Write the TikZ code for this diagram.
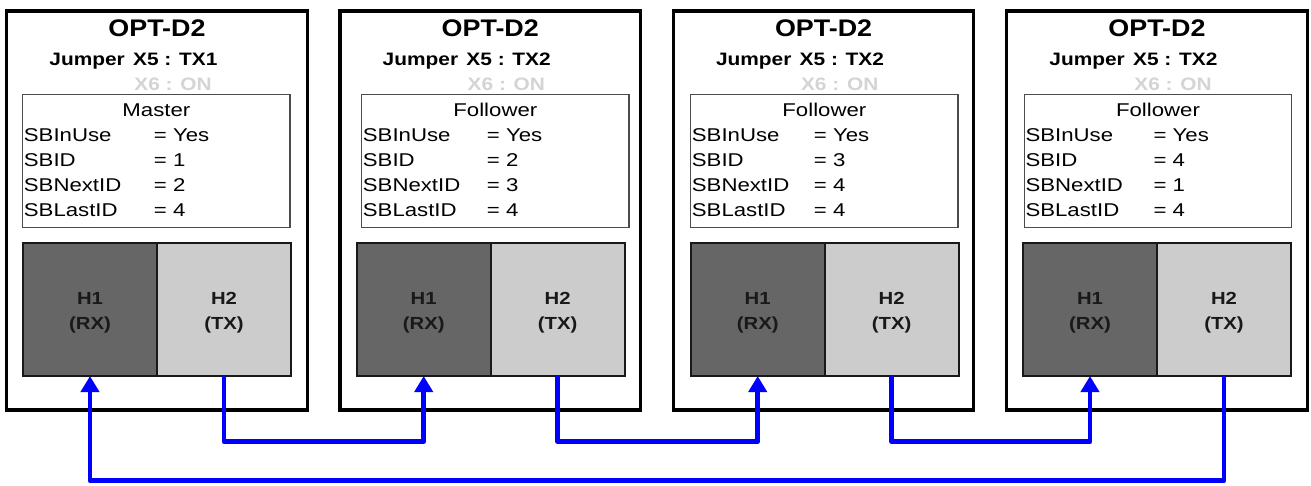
\documentclass[tikz,border=0pt]{standalone}
\usepackage{fontspec}
\setmainfont{Liberation Sans}
\newfontfamily\regf[FakeStretch=1.2]{Liberation Sans}
\newfontfamily\boldf[FakeStretch=1.16]{Liberation Sans Bold}
\newfontfamily\titlef[FakeStretch=1.12]{Liberation Sans Bold}
\usetikzlibrary{arrows.meta,calc}
\definecolor{hdark}{HTML}{666666}
\definecolor{hlight}{HTML}{CCCCCC}
\definecolor{xgray}{HTML}{D4D4D4}
\definecolor{lblue}{HTML}{0000FF}
\begin{document}
\begin{tikzpicture}[x=1pt,y=-1pt,
 outerbox/.style={draw, line width=3.3pt, minimum width=300.5pt, minimum height=399pt, inner sep=0pt, outer sep=0pt},
 infobox/.style={draw=black!70, line width=1.1pt, minimum width=267.3pt, minimum height=133.4pt, inner sep=0pt, outer sep=0pt},
 hbox/.style={draw=black!90, line width=2pt, minimum width=134pt, minimum height=132.7pt, inner sep=0pt, outer sep=0pt},
 rxbox/.style={hbox, fill=hdark},
 txbox/.style={hbox, fill=hlight},
 title/.style={font=\titlef\fontsize{24}{27}\selectfont, anchor=base, inner sep=0pt},
 jump/.style={font=\boldf\fontsize{18}{21}\selectfont, anchor=base west, inner sep=0pt},
 xsix/.style={jump, text=xgray},
 rolelab/.style={font=\regf\fontsize{18.5}{21}\selectfont, anchor=base, inner sep=0pt},
 rowlab/.style={font=\regf\fontsize{18.5}{21}\selectfont, anchor=base west, inner sep=0pt},
 hlab/.style={font=\boldf\fontsize{17.5}{20}\selectfont, anchor=base, inner sep=0pt, text=black!90},
 link/.style={draw=lblue, line width=4.8pt, line join=round, -{Triangle[width=18pt,length=16pt]}},
]
\useasboundingbox (0,0) rectangle (1311,485);
\foreach \i/\ox/\ix/\hx/\eq/\rl/\ida/\nxa/\jx in {
  1/6.7/22.7/23/131/Master/1/2/TX1,
  2/340/361.7/356.7/125/Follower/2/3/TX2,
  3/673.3/690.7/690.7/123/Follower/3/4/TX2,
  4/1006.7/1024.3/1023/129/Follower/4/1/TX2}{
  \node[outerbox, anchor=north west] (b\i) at (\ox,11) {};
  \node[infobox, anchor=north west] (s\i) at (\ix,94.3) {};
  \node[rxbox, anchor=north west] (rx\i) at (\hx,243.3) {};
  \node[txbox, anchor=west] (tx\i) at (rx\i.east) {};
  \node[title] (t\i) at (b\i.center |- 0,36) {OPT-D2};
  \node[jump] (j\i) at (\ox+42.5,65.5) {Jumper\hspace{2.5pt} X5 : \jx};
  \node[xsix] (x\i) at (\ox+127.5,90) {X6 : ON};
  \node[rolelab] (r\i) at (s\i.center |- 0,116.7) {\rl};
  \node[rowlab] (ka\i) at (\ix+1,141.7) {SBInUse};
  \node[rowlab] (va\i) at (\ix+\eq,141.7) {= Yes};
  \node[rowlab] (kb\i) at (\ix+1,166.7) {SBID};
  \node[rowlab] (vb\i) at (\ix+\eq,166.7) {= \ida};
  \node[rowlab] (kc\i) at (\ix+1,191.7) {SBNextID};
  \node[rowlab] (vc\i) at (\ix+\eq,191.7) {= \nxa};
  \node[rowlab] (kd\i) at (\ix+1,216.3) {SBLastID};
  \node[rowlab] (vd\i) at (\ix+\eq,216.3) {= 4};
  \node[hlab] (ha\i) at (rx\i.center |- 0,304) {H1};
  \node[hlab] (hb\i) at (rx\i.center |- 0,329) {(RX)};
  \node[hlab] (hc\i) at (tx\i.center |- 0,304) {H2};
  \node[hlab] (hd\i) at (tx\i.center |- 0,329) {(TX)};
}
\coordinate (ya) at (0,441.7);
\coordinate (yb) at (0,480.7);
\draw[link] (tx1.south) -- (tx1.south |- ya) -| (rx2.south);
\draw[link] (tx2.south) -- (tx2.south |- ya) -| (rx3.south);
\draw[link] (tx3.south) -- (tx3.south |- ya) -| (rx4.south);
\draw[link] (tx4.south) -- (tx4.south |- yb) -| (rx1.south);
\end{tikzpicture}
\end{document}
